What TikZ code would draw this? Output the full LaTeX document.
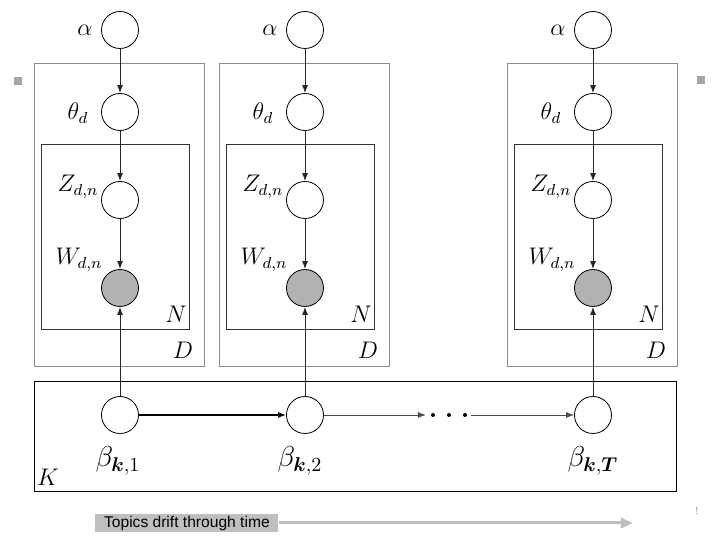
\documentclass[tikz,border=0pt]{standalone}
\usepackage{amsmath}
\usepackage{fontspec}
\newfontfamily\helv{Liberation Sans}
\usetikzlibrary{arrows.meta}
\tikzset{
  rv/.style={circle,draw=black,line width=0.4pt,minimum size=18.5pt,inner sep=0pt,fill=white},
  obs/.style={rv,fill=black!30},
  lbl/.style={inner sep=0pt,font=\fontsize{11.5}{13}\selectfont},
  blbl/.style={inner sep=0pt,font=\fontsize{14.5}{16}\selectfont},
  dplate/.style={draw=black!45,line width=0.5pt},
  nplate/.style={draw=black!80,line width=0.5pt},
  kplate/.style={draw=black,line width=0.5pt},
  edge/.style={-{Latex[length=4pt,width=3pt]},line width=0.45pt,draw=black!85},
  gsq/.style={fill=black!35,draw=none,minimum size=4pt,inner sep=0pt},
}
\begin{document}
\begin{tikzpicture}[x=0.5pt,y=-0.5pt]
\useasboundingbox (0,0) rectangle (720,540);
% decorative gray squares
\node[gsq] (sqL) at (18,81) {};
\node[gsq] (sqR) at (701,80) {};
\node[inner sep=0pt,text=black!40,font=\fontsize{5}{6}\selectfont] (bang) at (697,511) {!};
% columns
\foreach \c/\cx in {a/120,b/305,c/593}{
  \draw[dplate] (\cx-85,64) rectangle (\cx+85,367);
  \draw[nplate] (\cx-78,145) rectangle (\cx+70,330);
  \node[rv] (alpha\c) at (\cx,30) {};
  \node[rv] (theta\c) at (\cx,112) {};
  \node[rv] (z\c) at (\cx,200) {};
  \node[obs] (w\c) at (\cx,288) {};
  \node[lbl] (alphal\c) at (\cx-35,30) {$\alpha$};
  \node[lbl] (thetal\c) at (\cx-42,113) {$\theta_d$};
  \node[lbl] (zl\c) at (\cx-42,187) {$Z_{d,n}$};
  \node[lbl] (wl\c) at (\cx-41,260) {$W_{d,n}$};
  \node[lbl,font=\fontsize{12.5}{14}\selectfont] (nl\c) at (\cx+56,314) {$N$};
  \node[lbl,font=\fontsize{12.5}{14}\selectfont] (dl\c) at (\cx+63,350) {$D$};
  \draw[edge] (alpha\c) -- (theta\c);
  \draw[edge] (theta\c) -- (z\c);
  \draw[edge] (z\c) -- (w\c);
}
% K plate
\draw[kplate] (35,382) rectangle (677,492);
\node[rv] (b1) at (120,415) {};
\node[rv] (b2) at (305,415) {};
\node[rv] (bT) at (593,415) {};
\node[blbl] (b1l) at (118,461) {$\beta_{\boldsymbol{k},1}$};
\node[blbl] (b2l) at (300,461) {$\beta_{\boldsymbol{k},2}$};
\node[blbl] (bTl) at (593,461) {$\beta_{\boldsymbol{k},\boldsymbol{T}}$};
\node[lbl,font=\fontsize{12.5}{14}\selectfont] (kl) at (48,477) {$K$};
\draw[edge] (b1) -- (wa);
\draw[edge] (b2) -- (wb);
\draw[edge] (bT) -- (wc);
\draw[edge,line width=0.7pt,draw=black] (b1) -- (b2);
\coordinate (dotin) at (426,415);
\coordinate (dotout) at (471,415);
\draw[edge,draw=black!70] (b2) -- (dotin);
\foreach \i/\dx in {1/433,2/449,3/465}{
  \fill (\dx,415) circle[radius=2];
}
\draw[edge,draw=black!70] (dotout) -- (bT);
% time arrow
\node[fill=black!25,minimum width=91.5pt,minimum height=9pt,inner sep=0pt,
      font=\helv\fontsize{7.8}{9}\selectfont,anchor=west] (drift) at (95,523) {Topics drift through time};
\coordinate (tend) at (633,523);
\draw[draw=black!25,line width=1.5pt,-{Triangle[length=6pt,width=5pt]}] (drift.east) -- (tend);
\end{tikzpicture}
\end{document}
